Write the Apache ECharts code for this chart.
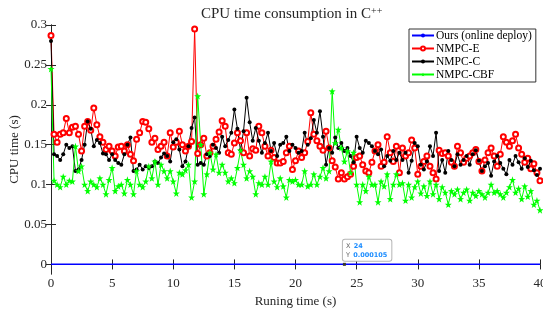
<!DOCTYPE html>
<html>
<head>
<meta charset="utf-8">
<script src="https://cdn.jsdelivr.net/npm/echarts@6/dist/echarts.min.js"></script>
<style>
html, body { margin: 0; padding: 0; background: #fff; }
#main { width: 543px; height: 309px; }
</style>
</head>
<body>
<div id="main"></div>
<script>
// sampling step of the solver logs (s)
const step = 0.25;

const xTicks = [0, 5, 10, 15, 20, 25, 30, 35, 40];
const yTicks = [0, 0.05, 0.1, 0.15, 0.2, 0.25, 0.3];

// Ours (online deploy), read once per second
const oursTime = [0,1,2,3,4,5,6,7,8,9,10,11,12,13,14,15,16,17,18,19,20,
  21,22,23,24,25,26,27,28,29,30,31,32,33,34,35,36,37,38,39,40];
const ours = [0.000102,0.0001,0.000098,0.0001,0.000103,0.0001,0.000101,0.0001,0.000099,0.0001,
  0.000102,0.0001,0.0001,0.000104,0.0001,0.000099,0.0001,0.000102,0.0001,0.0001,
  0.000101,0.0001,0.000103,0.0001,0.000105,0.0001,0.000099,0.0001,0.000102,0.0001,
  0.0001,0.000101,0.0001,0.000098,0.0001,0.000102,0.0001,0.0001,0.000101,0.0001,0.0001];

// NMPC-E, every 0.25 s
const nmpcE = [
  0.287, 0.163, 0.153, 0.163, 0.165, 0.183, 0.165, 0.172,
  0.173, 0.163, 0.142, 0.173, 0.179, 0.168, 0.196, 0.175,
  0.160, 0.153, 0.144, 0.148, 0.142, 0.136, 0.147, 0.148,
  0.142, 0.150, 0.138, 0.130, 0.157, 0.165, 0.179, 0.178,
  0.170, 0.153, 0.158, 0.144, 0.148, 0.153, 0.136, 0.165,
  0.147, 0.153, 0.167, 0.150, 0.142, 0.148, 0.154, 0.295,
  0.139, 0.150, 0.158, 0.136, 0.140, 0.148, 0.157, 0.166,
  0.180, 0.173, 0.140, 0.138, 0.152, 0.165, 0.155, 0.140,
  0.165, 0.136, 0.145, 0.143, 0.173, 0.165, 0.148, 0.136,
  0.143, 0.134, 0.127, 0.127, 0.129, 0.140, 0.148, 0.119,
  0.130, 0.142, 0.134, 0.140, 0.154, 0.190, 0.163, 0.155,
  0.148, 0.143, 0.167, 0.146, 0.130, 0.122, 0.107, 0.115,
  0.107, 0.110, 0.113, 0.123, 0.134, 0.136, 0.125, 0.117,
  0.115, 0.128, 0.142, 0.150, 0.123, 0.128, 0.160, 0.140,
  0.129, 0.148, 0.115, 0.146, 0.136, 0.140, 0.156, 0.146,
  0.113, 0.123, 0.129, 0.136, 0.123, 0.115, 0.107, 0.143,
  0.139, 0.140, 0.136, 0.128, 0.123, 0.148, 0.140, 0.128,
  0.133, 0.136, 0.140, 0.144, 0.129, 0.117, 0.131, 0.140,
  0.146, 0.136, 0.123, 0.138, 0.160, 0.153, 0.148, 0.155,
  0.163, 0.146, 0.138, 0.128, 0.133, 0.120, 0.126, 0.115,
  0.105
];

// NMPC-C
const nmpcC = [
  0.280, 0.138, 0.136, 0.131, 0.138, 0.150, 0.146, 0.148,
  0.117, 0.119, 0.131, 0.150, 0.179, 0.170, 0.148, 0.156,
  0.152, 0.139, 0.138, 0.131, 0.138, 0.131, 0.127, 0.125,
  0.138, 0.150, 0.159, 0.117, 0.119, 0.125, 0.119, 0.123,
  0.121, 0.123, 0.129, 0.127, 0.134, 0.139, 0.136, 0.129,
  0.153, 0.157, 0.144, 0.123, 0.129, 0.148, 0.171, 0.184,
  0.125, 0.127, 0.125, 0.138, 0.136, 0.150, 0.146, 0.140,
  0.160, 0.148, 0.156, 0.165, 0.194, 0.170, 0.143, 0.167,
  0.209, 0.178, 0.155, 0.171, 0.155, 0.140, 0.152, 0.165,
  0.142, 0.152, 0.136, 0.150, 0.152, 0.160, 0.142, 0.150,
  0.146, 0.140, 0.142, 0.165, 0.150, 0.158, 0.181, 0.165,
  0.192, 0.160, 0.125, 0.146, 0.140, 0.159, 0.146, 0.152,
  0.142, 0.146, 0.136, 0.128, 0.160, 0.146, 0.140, 0.155,
  0.152, 0.148, 0.142, 0.138, 0.144, 0.123, 0.136, 0.130,
  0.142, 0.131, 0.140, 0.131, 0.140, 0.115, 0.130, 0.152,
  0.148, 0.125, 0.119, 0.129, 0.148, 0.136, 0.165, 0.117,
  0.131, 0.115, 0.142, 0.131, 0.123, 0.138, 0.125, 0.131,
  0.136, 0.125, 0.138, 0.143, 0.130, 0.117, 0.123, 0.127,
  0.111, 0.129, 0.136, 0.127, 0.120, 0.113, 0.131, 0.125,
  0.136, 0.128, 0.120, 0.133, 0.122, 0.130, 0.118, 0.112,
  0.120
];

// NMPC-CBF
const nmpcCBF = [
  0.245, 0.105, 0.100, 0.097, 0.110, 0.100, 0.105, 0.104,
  0.148, 0.117, 0.123, 0.100, 0.092, 0.104, 0.100, 0.097,
  0.108, 0.100, 0.088, 0.106, 0.121, 0.092, 0.098, 0.100,
  0.089, 0.106, 0.100, 0.088, 0.117, 0.100, 0.097, 0.104,
  0.123, 0.108, 0.129, 0.100, 0.125, 0.117, 0.108, 0.117,
  0.104, 0.089, 0.115, 0.113, 0.118, 0.125, 0.084, 0.104,
  0.211, 0.150, 0.088, 0.113, 0.140, 0.119, 0.138, 0.115,
  0.125, 0.115, 0.104, 0.108, 0.102, 0.121, 0.143, 0.125,
  0.108, 0.117, 0.110, 0.088, 0.102, 0.100, 0.110, 0.100,
  0.129, 0.104, 0.097, 0.108, 0.098, 0.084, 0.106, 0.104,
  0.106, 0.100, 0.100, 0.117, 0.098, 0.100, 0.113, 0.100,
  0.110, 0.121, 0.108, 0.117, 0.217, 0.152, 0.169, 0.146,
  0.129, 0.142, 0.115, 0.140, 0.100, 0.078, 0.100, 0.092,
  0.110, 0.100, 0.100, 0.078, 0.104, 0.098, 0.113, 0.082,
  0.100, 0.113, 0.100, 0.102, 0.080, 0.100, 0.084, 0.097,
  0.104, 0.089, 0.098, 0.086, 0.104, 0.088, 0.100, 0.082,
  0.097, 0.090, 0.075, 0.092, 0.088, 0.094, 0.082, 0.090,
  0.094, 0.080, 0.090, 0.086, 0.092, 0.088, 0.084, 0.090,
  0.100, 0.090, 0.092, 0.088, 0.084, 0.090, 0.097, 0.106,
  0.090, 0.095, 0.082, 0.098, 0.085, 0.092, 0.075, 0.080,
  0.068
];

// data tip on the blue line
const tipX = 24;
const tipY = 0.000105;

const serif = 'Liberation Serif';
const ink = '#262626';
const star = 'path://M0,-10 L2.35,-3.24 L9.51,-3.09 L3.8,1.24 L5.88,8.09 L0,4 L-5.88,8.09 L-3.8,1.24 L-9.51,-3.09 L-2.35,-3.24 Z';

function pairs(vals) {
  return vals.map((v, i) => [i * step, v]);
}

var myChart = echarts.init(document.getElementById('main'));
var option = {
  animation: false,
  backgroundColor: '#fff',
  title: {
    text: 'CPU time consumption in C{s|++}',
    left: 196,
    top: 1,
    textStyle: {
      fontFamily: serif, fontSize: 15, fontWeight: 'normal', color: ink,
      rich: { s: { fontFamily: serif, fontSize: 10, verticalAlign: 'top', padding: [0, 0, 7, 0], color: ink } }
    }
  },
  legend: {
    orient: 'vertical',
    left: 409,
    top: 29,
    width: 129,
    itemWidth: 22,
    itemHeight: 5,
    itemGap: 0,
    padding: [0, 4, 1, 2],
    borderColor: '#333',
    borderWidth: 1,
    backgroundColor: '#fff',
    textStyle: { fontFamily: serif, fontSize: 11.5, lineHeight: 13, color: '#000', padding: [0, 0, 0, -3] },
    data: ['Ours (online deploy)', 'NMPC-E', 'NMPC-C', 'NMPC-CBF']
  },
  grid: { left: 51, right: 3, top: 25, bottom: 35, outerBoundsMode: 'none', containLabel: false },
  xAxis: [{
    type: 'value', min: 0, max: 40, interval: 5, position: 'bottom',
    name: 'Runing time (s)', nameLocation: 'middle', nameGap: 21,
    nameTextStyle: { fontFamily: serif, fontSize: 13, color: ink },
    axisLine: { show: true, lineStyle: { color: ink } },
    axisTick: { inside: true, length: 5, lineStyle: { color: ink } },
    axisLabel: { fontFamily: serif, fontSize: 13, color: ink, margin: 3, customValues: xTicks },
    splitLine: { show: false }
  }, {
    type: 'value', min: 0, max: 40, interval: 5, position: 'top',
    axisLine: { show: true, lineStyle: { color: ink } },
    axisTick: { inside: true, length: 5, lineStyle: { color: ink } },
    axisLabel: { show: false },
    splitLine: { show: false }
  }],
  yAxis: [{
    type: 'value', min: -0.012, max: 0.3, position: 'left',
    name: 'CPU time (s)', nameLocation: 'middle', nameGap: 30, nameMoveOverlap: false,
    nameTextStyle: { fontFamily: serif, fontSize: 13, color: ink },
    axisLine: { show: true, lineStyle: { color: ink } },
    axisTick: { inside: true, length: 5, lineStyle: { color: ink }, customValues: yTicks },
    axisLabel: { fontFamily: serif, fontSize: 13, color: ink, margin: 4, customValues: yTicks },
    splitLine: { show: false }
  }, {
    type: 'value', min: -0.012, max: 0.3, position: 'right',
    axisLine: { show: true, lineStyle: { color: ink } },
    axisTick: { inside: true, length: 5, lineStyle: { color: ink }, customValues: yTicks },
    axisLabel: { show: false },
    splitLine: { show: false }
  }],
  series: [
    {
      name: 'Ours (online deploy)', type: 'line',
      data: ours.map((v, i) => [oursTime[i], v]),
      showSymbol: false, symbol: 'none',
      lineStyle: { color: '#0000ff', width: 1.5 },
      itemStyle: { color: '#0000ff' },
      markPoint: {
        symbol: 'rect', symbolSize: 3,
        itemStyle: { color: '#3a3a2a' },
        data: [{ coord: [tipX, tipY] }],
        label: {
          show: true,
          position: [0, -23],
          formatter: '{k|X} {v|' + tipX + '}\n{k|Y} {v|' + tipY + '}',
          backgroundColor: '#fff',
          borderColor: '#b5b5b5',
          borderWidth: 1,
          borderRadius: 2,
          padding: [2, 4, 1, 3],
          lineHeight: 9,
          rich: {
            k: { fontFamily: 'DejaVu Sans', fontSize: 6.5, color: '#666', lineHeight: 9 },
            v: { fontFamily: 'DejaVu Sans', fontSize: 6.5, color: '#1a8cff', fontWeight: 'bold', lineHeight: 9 }
          }
        }
      }
    },
    {
      name: 'NMPC-E', type: 'line', data: pairs(nmpcE),
      symbol: 'emptyCircle', symbolSize: 5,
      lineStyle: { color: '#ff0000', width: 1 },
      itemStyle: { color: '#ff0000', borderWidth: 0.6 }
    },
    {
      name: 'NMPC-C', type: 'line', data: pairs(nmpcC),
      symbol: 'circle', symbolSize: 4,
      lineStyle: { color: '#000', width: 1 },
      itemStyle: { color: '#000' }
    },
    {
      name: 'NMPC-CBF', type: 'line', data: pairs(nmpcCBF),
      symbol: star, symbolSize: 7,
      lineStyle: { color: '#00ff00', width: 1 },
      itemStyle: { color: '#00ff00' }
    }
  ]
};

option && myChart.setOption(option);
</script>
</body>
</html>
